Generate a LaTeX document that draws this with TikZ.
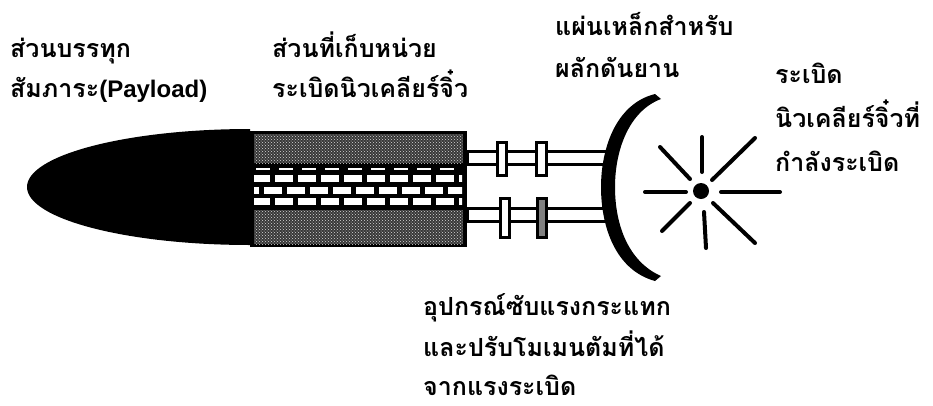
\documentclass[tikz,border=0pt]{standalone}
\usepackage{fontspec}
\newfontfamily\thaifont[Script=Thai]{Loma}
\newfontfamily\latinfont{Liberation Sans}
\usetikzlibrary{patterns}

\tikzset{
  txt/.style={anchor=base west, inner sep=0pt, font=\thaifont\bfseries\fontsize{25}{29}\selectfont},
  spoke/.style={line width=4pt, line cap=round},
  rod/.style={draw, line width=3pt, fill=white},
  clamp/.style={draw, line width=3pt, fill=white},
}

\begin{document}
\begin{tikzpicture}[x=1pt,y=-1pt]
\useasboundingbox (0,0) rectangle (933,405);

% nose of the craft
\fill (250,129) .. controls (127,129) and (27,155) .. (27,187)
  .. controls (27,219) and (127,245) .. (250,245) -- cycle;

% casing with the stack of small bombs
\fill (250,131) rectangle (467,247);
\fill[black!78] (254,134) rectangle (463,163);
\fill[pattern=crosshatch dots, pattern color=white!85!black] (254,134) rectangle (463,163);
\fill[black!78] (254,210) rectangle (463,244);
\fill[pattern=crosshatch dots, pattern color=white!85!black] (254,210) rectangle (463,244);
\begin{scope}
  \clip (254,165) rectangle (462,208);
  \foreach \x in {256,279,...,460}
    \fill[white] (\x,168) rectangle +(14,2);
  \foreach \x in {252,275,...,460} {
    \fill[white] (\x,175) rectangle +(18,7);
    \fill[white] (\x,198) rectangle +(18,7);
  }
  \foreach \x in {241,264,...,460}
    \fill[white] (\x,187) rectangle +(18,7);
\end{scope}

% rods and shock absorbers
\draw[rod] (467,151) rectangle (608,164);
\draw[rod] (467,208) rectangle (608,221);
\draw[clamp] (497,142) rectangle (506,175);
\draw[clamp] (536,142) rectangle (546,175);
\draw[clamp] (500,198) rectangle (509,237);
\draw[clamp, fill=black!50] (537,198) rectangle (546,237);

% pusher plate
\fill (655,94) .. controls (615,104) and (601,150) .. (601,187)
  .. controls (601,226) and (615,270) .. (655,281) -- (661,276)
  .. controls (629,262) and (615,226) .. (615,187)
  .. controls (615,150) and (629,111) .. (661,99) -- cycle;

% exploding charge
\fill (701,191) circle (8pt);
\draw[spoke] (660,147) -- (690,179);
\draw[spoke] (755,138) -- (712,180);
\draw[spoke] (662,231) -- (690,203);
\draw[spoke] (755,243) -- (713,203);
\draw[spoke] (702,137) -- (702,172);
\draw[spoke] (704,212) -- (706,248);
\draw[spoke] (645,192) -- (686,192);
\draw[spoke] (721,192) -- (780,192);

\node[txt] (pay1) at (10,57) {ส่วนบรรทุก};
\node[txt] (pay2) at (10,97) {สัมภาระ{\latinfont\fontsize{24}{28}\selectfont(Payload)}};
\node[txt] (stack1) at (272,57) {ส่วนที่เก็บหน่วย};
\node[txt] (stack2) at (272,97) {ระเบิดนิวเคลียร์จิ๋ว};
\node[txt] (plate1) at (555,35) {แผ่นเหล็กสำหรับ};
\node[txt] (plate2) at (555,77) {ผลักดันยาน};
\node[txt] (blast1) at (775,83) {ระเบิด};
\node[txt] (blast2) at (775,127) {นิวเคลียร์จิ๋วที่};
\node[txt] (blast3) at (775,171) {กำลังระเบิด};
\node[txt] (damp1) at (423,315) {อุปกรณ์ซับแรงกระแทก};
\node[txt] (damp2) at (423,356) {และปรับโมเมนตัมที่ได้};
\node[txt] (damp3) at (423,395) {จากแรงระเบิด};
\end{tikzpicture}
\end{document}
